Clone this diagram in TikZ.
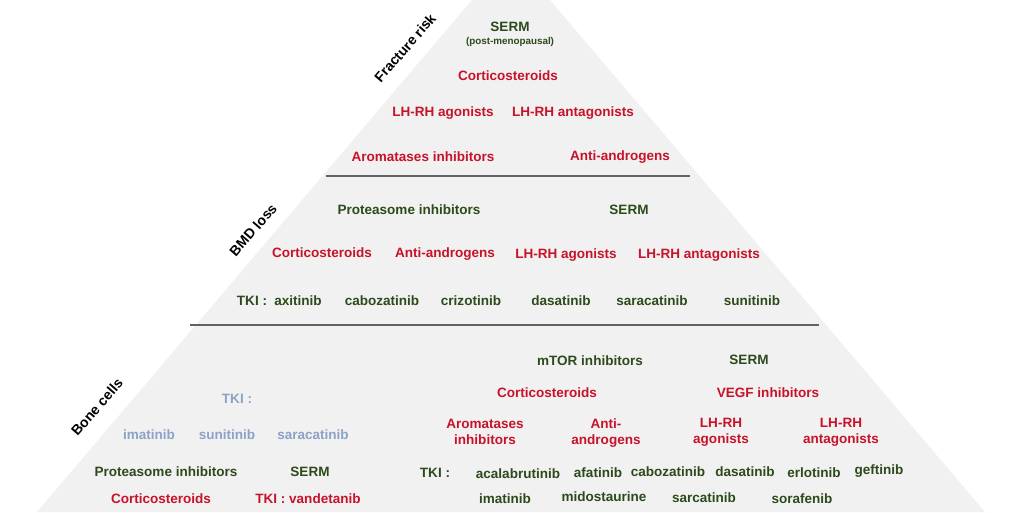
\documentclass[tikz,border=0pt]{standalone}
\usepackage{fontspec}
\setmainfont{Liberation Sans}
\usepackage{xcolor}
\usepackage{tikz}
\usetikzlibrary{positioning}
\definecolor{drugred}{RGB}{200,18,42}
\definecolor{druggreen}{RGB}{44,74,28}
\definecolor{druglight}{RGB}{140,162,200}
\definecolor{pyrfill}{RGB}{241,241,241}
\definecolor{bargray}{RGB}{98,98,98}

\begin{document}
\begin{tikzpicture}[
  x=0.02cm, y=-0.02cm,
  lbl/.style  = {inner sep=0pt, font=\fontsize{7.7}{9}\selectfont\bfseries, align=center},
  red/.style  = {lbl, text=drugred},
  grn/.style  = {lbl, text=druggreen},
  lgt/.style  = {lbl, text=druglight},
  tier/.style = {lbl, text=black, rotate=49, font=\fontsize{8}{9}\selectfont\bfseries},
  bar/.style  = {line width=1.6pt, bargray}
]
  \useasboundingbox (0,0) rectangle (1024,512);
  \clip (0,0) rectangle (1024,512);
  % pyramid
  \coordinate (apex) at (511,-46);
  \coordinate (bl) at (37,512);
  \coordinate (br) at (985,512);
  \fill[pyrfill] (apex) -- (br) -- (bl) -- cycle;
  \coordinate (b1l) at (326,176);
  \coordinate (b1r) at (690,176);
  \coordinate (b2l) at (190,325);
  \coordinate (b2r) at (819,325);
  \draw[bar] (b1l) -- (b1r);
  \draw[bar] (b2l) -- (b2r);

  % fracture risk
  \node[tier] (frac) at (405,48) {Fracture risk};
  \node[grn] (fserm) at (510,27) {SERM};
  \node[grn, font=\fontsize{5.6}{7}\selectfont\bfseries] (fpost) at (510,42) {(post-menopausal)};
  \node[red] (fcort) at (508,76) {Corticosteroids};
  \node[red] (fago)  at (443,113) {LH-RH agonists};
  \node[red] (fanta) at (573,113) {LH-RH antagonists};
  \node[red] (farom) at (423,157) {Aromatases inhibitors};
  \node[red] (fandr) at (620,157) {Anti-androgens};

  % BMD loss
  \node[tier] (bmd) at (253,230) {BMD loss};
  \node[grn] (bprot) at (409,210) {Proteasome inhibitors};
  \node[grn] (bserm) at (629,210) {SERM};
  \node[red] (bcort) at (322,253) {Corticosteroids};
  \node[red] (bandr) at (445,254) {Anti-androgens};
  \node[red] (bago)  at (566,255) {LH-RH agonists};
  \node[red] (banta) at (699,255) {LH-RH antagonists};
  \node[grn] (btki)  at (252,301) {TKI :};
  \node[grn] (baxi)  at (298,301) {axitinib};
  \node[grn] (bcabo) at (382,301) {cabozatinib};
  \node[grn] (bcriz) at (471,301) {crizotinib};
  \node[grn] (bdasa) at (561,301) {dasatinib};
  \node[grn] (bsara) at (652,301) {saracatinib};
  \node[grn] (bsuni) at (752,301) {sunitinib};

  % bone cells
  \node[tier] (bone) at (97,407) {Bone cells};
  \node[lgt] (ctki)  at (237,399) {TKI :};
  \node[lgt] (cima)  at (149,435) {imatinib};
  \node[lgt] (csuni) at (227,435) {sunitinib};
  \node[lgt] (csara) at (313,435) {saracatinib};
  \node[grn] (cprot) at (166,472) {Proteasome inhibitors};
  \node[grn] (cserm) at (310,472) {SERM};
  \node[red] (ccort) at (161,499) {Corticosteroids};
  \node[red] (cvand) at (308,499) {TKI : vandetanib};
  \node[grn] (cmtor) at (590,361) {mTOR inhibitors};
  \node[grn] (cserm2) at (749,360) {SERM};
  \node[red] (ccort2) at (547,393) {Corticosteroids};
  \node[red] (cvegf) at (768,393) {VEGF inhibitors};
  \node[red] (carom) at (485,432) {Aromatases\\inhibitors};
  \node[red] (candr) at (606,433) {Anti-\\androgens};
  \node[red] (cago)  at (721,432) {LH-RH\\agonists};
  \node[red] (canta) at (841,432) {LH-RH\\antagonists};
  \node[grn] (ctki2) at (435,473) {TKI :};
  \node[grn] (cacal) at (518,474) {acalabrutinib};
  \node[grn] (cafat) at (598,473) {afatinib};
  \node[grn] (ccabo) at (668,472) {cabozatinib};
  \node[grn] (cdasa) at (745,472) {dasatinib};
  \node[grn] (cerlo) at (814,473) {erlotinib};
  \node[grn] (cgef)  at (879,471) {geftinib};
  \node[grn] (cima2) at (505,499) {imatinib};
  \node[grn] (cmido) at (604,497) {midostaurine};
  \node[grn] (csarc) at (704,498) {sarcatinib};
  \node[grn] (csora) at (802,499) {sorafenib};
\end{tikzpicture}
\end{document}
